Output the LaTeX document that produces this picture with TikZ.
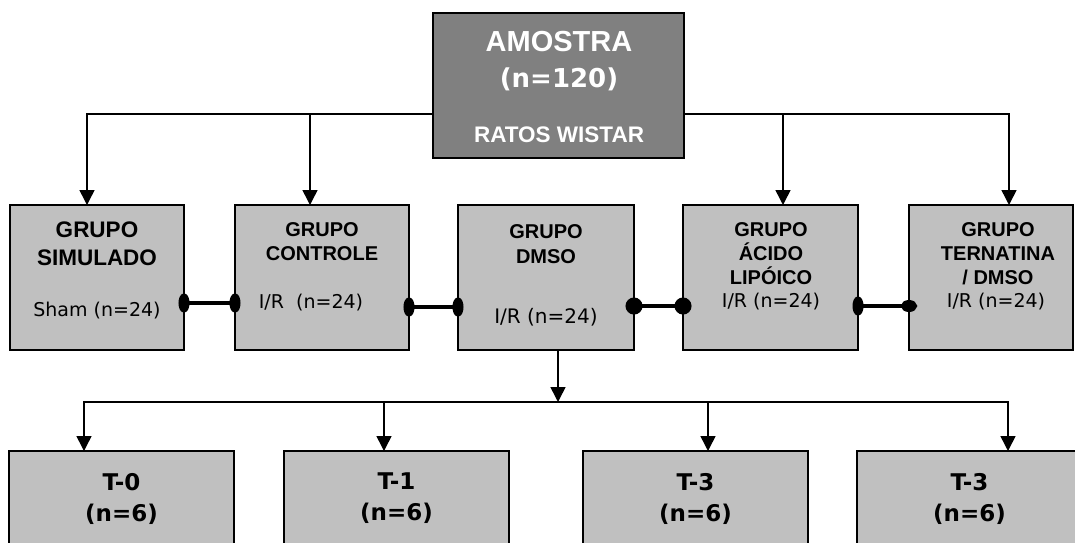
\documentclass[tikz,border=0pt]{standalone}
\usepackage{fontspec}
\setmainfont{Liberation Sans}
\newfontfamily\tahoma{DejaVu Sans}
\usetikzlibrary{arrows.meta}

\definecolor{topgray}{HTML}{808080}
\definecolor{boxgray}{HTML}{C0C0C0}

\tikzset{
	topbox/.style={rectangle,draw,line width=1.5pt,fill=topgray,outer sep=0pt,
		minimum width=251pt,minimum height=145pt},
	groupbox/.style={rectangle,draw,line width=1.5pt,fill=boxgray,outer sep=0pt,
		minimum height=145pt},
	timebox/.style={rectangle,draw,line width=1.5pt,fill=boxgray,outer sep=0pt,
		minimum width=225pt,minimum height=95pt,align=center,
		font=\tahoma\bfseries\fontsize{23}{31}\selectfont},
	grouptitle/.style={inner sep=0pt,align=center,
		font=\bfseries\fontsize{20}{24}\selectfont},
	groupcount/.style={inner sep=0pt,font=\tahoma\fontsize{19}{23}\selectfont},
	flow/.style={line width=1.5pt,-{Triangle[length=15pt,width=15pt]}},
	link/.style={line width=4.5pt},
}

\begin{document}
\begin{tikzpicture}[x=1pt,y=-1pt]
	\useasboundingbox (0,0) rectangle (1075,542);
	\clip (0,0) rectangle (1075,542);

		\node[topbox] (amostra) at (558.5,85.5) {};
		\node[inner sep=0pt,text=white,font=\bfseries\fontsize{29}{34}\selectfont]
			(amostratitle) at (559,42) {AMOSTRA};
		\node[inner sep=0pt,text=white,font=\tahoma\bfseries\fontsize{26}{31}\selectfont]
			(amostracount) at (559,79) {(n=120)};
		\node[inner sep=0pt,text=white,font=\bfseries\fontsize{22.5}{27}\selectfont]
			(amostrarats) at (559,134.7) {RATOS WISTAR};

		\node[groupbox,minimum width=174pt] (sim) at (97,277.5) {};
		\node[groupbox,minimum width=174pt] (con) at (322,277.5) {};
		\node[groupbox,minimum width=176pt] (dmso) at (546,277.5) {};
		\node[groupbox,minimum width=175pt] (acido) at (770.5,277.5) {};
		\node[groupbox,minimum width=164pt] (tern) at (991,277.5) {};

		\node[grouptitle,font=\bfseries\fontsize{22.5}{27.7}\selectfont]
			(simtitle) at (97,244) {GRUPO\\SIMULADO};
		\node[groupcount] (simcount) at (97,311) {Sham (n=24)};
		\node[grouptitle] (contitle) at (322,241.2) {GRUPO\\CONTROLE};
		\node[groupcount] (concount) at (311,303) {I/R~~(n=24)};
		\node[grouptitle,font=\bfseries\fontsize{20}{25}\selectfont]
			(dmsotitle) at (546,244) {GRUPO\\DMSO};
		\node[groupcount,font=\tahoma\fontsize{20}{24}\selectfont]
			(dmsocount) at (546,317) {I/R (n=24)};
		\node[grouptitle] (acidotitle) at (771,253.5) {GRUPO\\ÁCIDO\\LIPÓICO};
		\node[groupcount] (acidocount) at (771,302) {I/R (n=24)};
		\node[grouptitle] (terntitle) at (998,253.5) {GRUPO\\TERNATINA\\/ DMSO};
		\node[groupcount] (terncount) at (996,302) {I/R (n=24)};

		\node[timebox] (t0) at (121.5,498.5) {T-0\\(n=6)};
		\node[timebox] (t1) at (396.5,498.5) {T-1\\(n=6)};
		\node[timebox] (t3a) at (695.5,498.5) {T-3\\(n=6)};
		\node[timebox] (t3b) at (969.5,498.5) {T-3\\(n=6)};

		\draw[flow] ([yshift=-28.5pt]amostra.west) -| ([xshift=-10pt]sim.north);
		\draw[flow] ([yshift=-28.5pt]amostra.west) -| ([xshift=-12pt]con.north);
		\draw[flow] ([yshift=-28.5pt]amostra.east) -| ([xshift=12.5pt]acido.north);
		\draw[flow] ([yshift=-28.5pt]amostra.east) -| ([xshift=18pt]tern.north);

		\draw[link,{Ellipse[length=11pt,width=19pt]}-{Ellipse[length=11pt,width=19pt]},
			shorten <=-5.5pt,shorten >=-5.5pt]
			([yshift=-25.5pt]sim.east) -- ([yshift=-25.5pt]con.west);
		\draw[link,{Ellipse[length=11pt,width=19pt]}-{Ellipse[length=11pt,width=19pt]},
			shorten <=-5.5pt,shorten >=-5.5pt]
			([yshift=-29.5pt]con.east) -- ([yshift=-29.5pt]dmso.west);
		\draw[link,{Circle[length=17pt]}-{Circle[length=17pt]},
			shorten <=-8.5pt,shorten >=-8.5pt]
			([yshift=-28.5pt]dmso.east) -- ([yshift=-28.5pt]acido.west);
		\draw[link,{Ellipse[length=11pt,width=19pt]}-{Ellipse[length=16pt,width=12pt]},
			shorten <=-5.5pt,shorten >=-8pt]
			([yshift=-28.5pt]acido.east) -- ([yshift=-28.5pt]tern.west);

		\coordinate (split) at (558,402);
		\draw[flow] ([xshift=12pt]dmso.south) -- (split);
		\draw[flow] (split) -| ([xshift=-37.5pt]t0.north);
		\draw[flow] (split) -| ([xshift=-12.5pt]t1.north);
		\draw[flow] (split) -| ([xshift=12.5pt]t3a.north);
		\draw[flow] (split) -| ([xshift=38.5pt]t3b.north);
	\end{tikzpicture}
\end{document}
